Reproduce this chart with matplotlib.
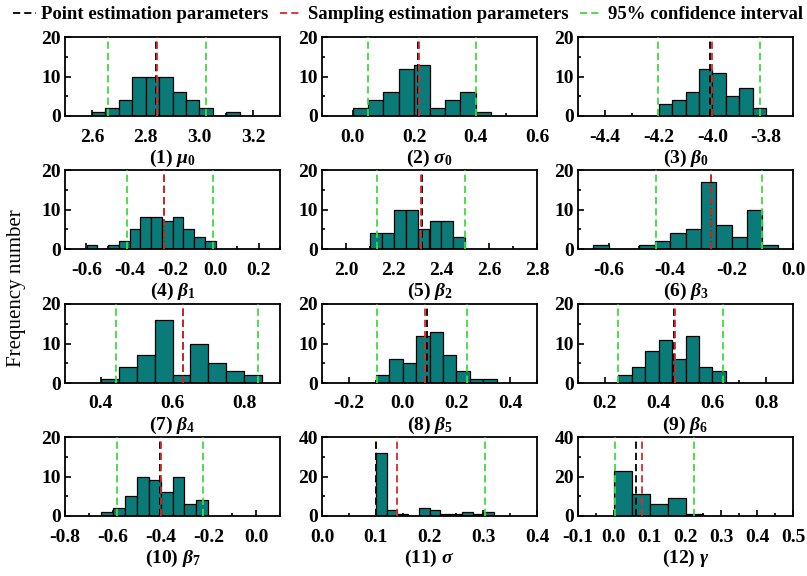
import numpy as np
import matplotlib
matplotlib.use('Agg')
import matplotlib.pyplot as plt
from matplotlib.lines import Line2D
from matplotlib.ticker import MultipleLocator, FormatStrFormatter

plt.rcParams['font.family'] = ['Liberation Serif', 'DejaVu Serif']
plt.rcParams['font.weight'] = 'bold'
plt.rcParams['axes.labelweight'] = 'bold'
plt.rcParams['axes.unicode_minus'] = False
plt.rcParams['mathtext.fontset'] = 'custom'
plt.rcParams['mathtext.rm'] = 'Liberation Serif:bold'
plt.rcParams['mathtext.it'] = 'Liberation Serif:italic:bold'
plt.rcParams['mathtext.bf'] = 'Liberation Serif:bold'

# panel names
labels = ['(1) $\\mu_0$', '(2) $\\sigma_0$', '(3) $\\beta_0$',
          '(4) $\\beta_1$', '(5) $\\beta_2$', '(6) $\\beta_3$',
          '(7) $\\beta_4$', '(8) $\\beta_5$', '(9) $\\beta_6$',
          '(10) $\\beta_7$', '(11) $\\sigma$', '(12) $\\gamma$']

# histogram bins (first edge, width) and counts
bin_start = [2.60, 0.00, -4.20, -0.60, 2.10, -0.65, 0.40, -0.10, 0.25, -0.65, 0.10, 0.00]
bin_width = [0.05, 0.05, 0.05, 0.05, 0.05, 0.05, 0.05, 0.05, 0.05, 0.05, 0.02, 0.05]
counts = [
    [1, 2, 4, 10, 10, 10, 6, 4, 2, 0, 1],
    [2, 4, 6, 12, 13, 2, 4, 6, 1],
    [3, 4, 6, 12, 11, 5, 7, 2],
    [1, 0, 1, 2, 5, 8, 8, 7, 8, 5, 3, 2],
    [4, 4, 10, 10, 5, 7, 7, 3],
    [1, 0, 0, 1, 2, 4, 5, 17, 6, 3, 10, 1],
    [1, 4, 7, 16, 2, 10, 5, 3, 2],
    [2, 6, 5, 12, 13, 7, 3, 1, 1],
    [2, 4, 8, 11, 6, 12, 4, 3],
    [1, 2, 5, 10, 9, 6, 10, 3, 4],
    [32, 3, 1, 0, 4, 3, 1, 1, 2, 1, 2],
    [23, 11, 6, 9, 1],
]

# point estimates, sampling estimates, 95% CI bounds
point_est = [2.838, 0.212, -4.009, -0.240, 2.320, -0.268, 0.628, 0.090, 0.458, -0.402, 0.101, 0.062]
sample_est = [2.841, 0.217, -4.003, -0.238, 2.313, -0.266, 0.630, 0.085, 0.460, -0.400, 0.140, 0.078]
ci_low = [2.659, 0.049, -4.201, -0.413, 2.129, -0.445, 0.442, -0.094, 0.250, -0.581, 0.100, 0.002]
ci_high = [3.024, 0.400, -3.823, -0.013, 2.500, -0.100, 0.839, 0.238, 0.640, -0.224, 0.303, 0.225]

xlims = [(2.5, 3.3), (-0.1, 0.6), (-4.5, -3.7), (-0.7, 0.3), (1.9, 2.8), (-0.7, 0.0),
         (0.3, 0.9), (-0.3, 0.5), (0.1, 0.9), (-0.8, 0.1), (0.0, 0.4), (-0.1, 0.5)]
ylims = [20, 20, 20, 20, 20, 20, 20, 20, 20, 20, 40, 40]
xmajor = [0.2] * 10 + [0.1, 0.1]

W, H = 807, 576
fig = plt.figure(figsize=(W / 100, H / 100), dpi=100)

col_left = [65, 322, 578]
row_top = [37, 170, 304, 437]
aw, ah = 215, 79

teal = '#0b7b7a'
green = '#3fdc3f'
red = '#e02828'
dash = (0, (4, 2.2))

for i in range(12):
    r, c = divmod(i, 3)
    ax = fig.add_axes([col_left[c] / W, 1 - (row_top[r] + ah) / H, aw / W, ah / H])
    n = len(counts[i])
    edges = bin_start[i] + bin_width[i] * np.arange(n)
    ax.bar(edges, counts[i], width=bin_width[i], align='edge',
           color=teal, edgecolor='black', linewidth=0.9, zorder=2)
    ax.axvline(ci_low[i], color=green, ls=dash, lw=1.3, zorder=3)
    ax.axvline(ci_high[i], color=green, ls=dash, lw=1.3, zorder=3)
    ax.axvline(point_est[i], color='black', ls=dash, lw=1.3, zorder=4)
    ax.axvline(sample_est[i], color=red, ls=dash, lw=1.3, zorder=5)

    ax.set_xlim(*xlims[i])
    ax.set_ylim(0, ylims[i])
    ax.xaxis.set_major_locator(MultipleLocator(xmajor[i]))
    ax.xaxis.set_minor_locator(MultipleLocator(xmajor[i] / 2))
    ax.xaxis.set_major_formatter(FormatStrFormatter('%.1f'))
    ax.yaxis.set_major_locator(MultipleLocator(ylims[i] / 2))
    ax.yaxis.set_minor_locator(MultipleLocator(ylims[i] / 4))
    ax.tick_params(which='both', direction='in', top=False, right=False,
                   labelsize=14, width=1.2)
    ax.tick_params(axis='x', pad=9)
    ax.tick_params(axis='y', pad=3)
    ax.tick_params(which='major', length=4.5)
    ax.tick_params(which='minor', length=2.5)
    for s in ax.spines.values():
        s.set_linewidth(1.3)
    ax.set_xlabel(labels[i], fontsize=14, fontweight='bold', labelpad=2)

fig.text(0.021, 0.5, 'Frequency number', rotation=90, va='center', ha='center',
         fontsize=15, fontweight='normal')

handles = [Line2D([], [], color='black', ls=dash, lw=1.3),
           Line2D([], [], color=red, ls=dash, lw=1.3),
           Line2D([], [], color=green, ls=dash, lw=1.3)]
names = ['Point estimation parameters', 'Sampling estimation parameters',
         '95% confidence interval']
fig.legend(handles, names, loc='upper left', bbox_to_anchor=(0.0, 1.012), ncol=3,
           frameon=False, handlelength=1.2, handletextpad=0.3,
           columnspacing=0.6, borderaxespad=0.3,
           prop={'weight': 'bold', 'size': 13.5})

fig.savefig('out.png', dpi=100)
